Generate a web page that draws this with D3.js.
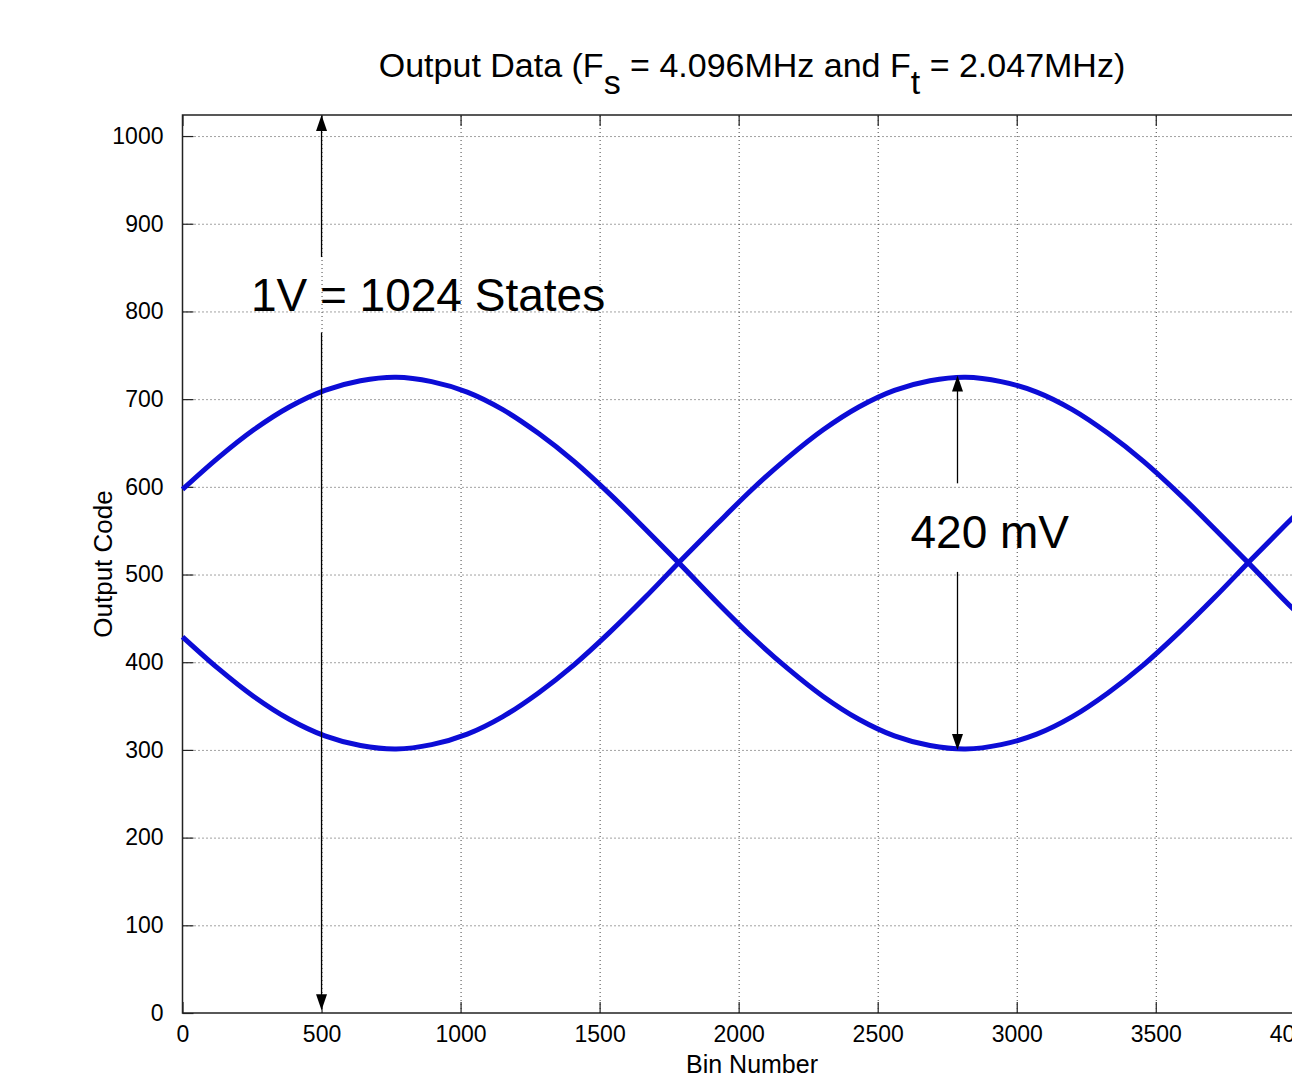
<!DOCTYPE html>
<html>
<head>
<meta charset="utf-8">
<script src="https://cdn.jsdelivr.net/npm/d3@7"></script>
<style>
    body { margin: 0; background: #fff; }
    svg { display: block; font-family: 'Liberation Sans', Arial, Helvetica, sans-serif; }
    .grid line { stroke: #444; stroke-dasharray: 1, 3; }
    .grid path { display: none; }
    .axis path { display: none; }
    .axis line { stroke: #222; stroke-width: 1.2; }
    .axis text { font-size: 23px; fill: #000; }
</style>
</head>
<body>
<svg id="grafico" width="1292" height="1078"></svg>
<script>
/* dados */
const bins = [0, 128, 256, 384, 512, 640, 768, 896, 1024, 1152, 1280, 1408, 1536, 1664, 1792, 1920,
    2048, 2176, 2304, 2432, 2560, 2688, 2816, 2944, 3072, 3200, 3328, 3456, 3584, 3712, 3840, 3968, 4096]
const codeA = [597, 633, 665, 691, 710, 721, 725, 720, 708, 688, 661, 629, 592, 552, 511, 469,
    429, 393, 361, 335, 316, 305, 301, 306, 318, 338, 365, 397, 434, 474, 516, 557, 597]
const codeB = [429, 393, 361, 335, 316, 305, 301, 306, 318, 338, 365, 397, 434, 474, 516, 557,
    597, 633, 665, 691, 710, 721, 725, 720, 708, 688, 661, 629, 592, 552, 511, 469, 429]

const xTicks = [0, 500, 1000, 1500, 2000, 2500, 3000, 3500, 4000]
const yTicks = [0, 100, 200, 300, 400, 500, 600, 700, 800, 900, 1000]

const titulo = [
    { t: 'Output Data (F', sub: false },
    { t: 's', sub: true },
    { t: ' = 4.096MHz and F', sub: false },
    { t: 't', sub: true },
    { t: ' = 2.047MHz)', sub: false }
]

/* anotacoes: bin da seta, pontas, corte para o texto e posicao do texto */
const seta1 = { bin: 500, top: 1024, bottom: 3, gapTop: 862, gapBottom: 776, label: '1V = 1024 States', lx: 883, ly: 801 }
const seta2 = { bin: 2787, top: 727, bottom: 300, gapTop: 604, gapBottom: 503, label: '420 mV', lx: 2903, ly: 530 }

function grafico(div) {
    const svg = d3.select(div);

    const margin = { top: 115, left: 182.5 };
    const width = 1139;
    const height = 898;

    const chart = svg.append('g')
        .attr('transform', `translate(${margin.left}, ${margin.top})`)

    const xScale = d3.scaleLinear()
        .range([0, width])
        .domain([0, 4096])

    const yScale = d3.scaleLinear()
        .range([height, 0])
        .domain([0, 1024])

    /*grade*/
    chart.append('g')
        .attr('class', 'grid')
        .call(d3.axisLeft(yScale)
            .tickValues(yTicks.slice(1))
            .tickSize(-width, 0, 0)
            .tickFormat('')
        )
    chart.append('g')
        .attr('class', 'grid')
        .attr('transform', `translate(0, ${height})`)
        .call(d3.axisBottom(xScale)
            .tickValues(xTicks.slice(1))
            .tickSize(-height, 0, 0)
            .tickFormat('')
        )

    /*eixos com ticks para dentro*/
    chart.append('g')
        .attr('class', 'axis')
        .attr('transform', `translate(0, ${height})`)
        .call(d3.axisBottom(xScale).tickValues(xTicks).tickFormat(d3.format('d')).tickSize(-11).tickPadding(23))
        .selectAll('text').attr('dy', '0.71em').attr('transform', 'translate(0,-10)')

    chart.append('g')
        .attr('class', 'axis')
        .call(d3.axisTop(xScale).tickValues(xTicks).tickSize(-11).tickFormat(''))

    chart.append('g')
        .attr('class', 'axis')
        .call(d3.axisLeft(yScale).tickValues(yTicks).tickFormat(d3.format('d')).tickSize(-11).tickPadding(19))

    /*caixa*/
    chart.append('rect')
        .attr('x', 0)
        .attr('y', 0)
        .attr('width', width)
        .attr('height', height)
        .attr('fill', 'none')
        .attr('stroke', '#222')
        .attr('stroke-width', 1.5)

    /*curvas*/
    const linha = d3.line()
        .x((d, i) => xScale(bins[i]))
        .y((d) => yScale(d))
        .curve(d3.curveCatmullRom)

    chart.selectAll('.serie')
        .data([codeA, codeB])
        .enter()
        .append('path')
        .attr('class', 'serie')
        .attr('d', linha)
        .attr('fill', 'none')
        .attr('stroke', '#0c0cd6')
        .attr('stroke-width', 5)
        .attr('stroke-linejoin', 'round')

    /*setas*/
    const setas = [seta1, seta2]
    setas.forEach(function (s) {
        const x = xScale(s.bin)
        const yTop = yScale(s.top)
        const yBot = yScale(s.bottom)
        chart.append('line')
            .attr('x1', x).attr('x2', x)
            .attr('y1', yTop + 12).attr('y2', yScale(s.gapTop))
            .attr('stroke', '#000').attr('stroke-width', 1.3)
        chart.append('line')
            .attr('x1', x).attr('x2', x)
            .attr('y1', yScale(s.gapBottom)).attr('y2', yBot - 12)
            .attr('stroke', '#000').attr('stroke-width', 1.3)
        chart.append('path')
            .attr('d', `M${x},${yTop} L${x - 5.5},${yTop + 16} L${x + 5.5},${yTop + 16} Z`)
            .attr('fill', '#000')
        chart.append('path')
            .attr('d', `M${x},${yBot} L${x - 5.5},${yBot - 16} L${x + 5.5},${yBot - 16} Z`)
            .attr('fill', '#000')
        chart.append('text')
            .attr('x', xScale(s.lx))
            .attr('y', yScale(s.ly))
            .attr('text-anchor', 'middle')
            .attr('font-size', '46px')
            .text(s.label)
    })

    /*titulo*/
    const tit = svg.append('text')
        .attr('x', margin.left + width / 2)
        .attr('y', 77)
        .attr('text-anchor', 'middle')
        .attr('font-size', '34px')
    titulo.forEach(function (p, i) {
        const prev = i > 0 && titulo[i - 1].sub
        tit.append('tspan')
            .attr('dy', p.sub ? 17 : (prev ? -17 : 0))
            .text(p.t)
    })

    /*rotulos dos eixos*/
    svg.append('text')
        .attr('x', margin.left + width / 2)
        .attr('y', 1073)
        .attr('text-anchor', 'middle')
        .attr('font-size', '25px')
        .text('Bin Number')

    svg.append('text')
        .attr('transform', `translate(112, ${margin.top + height / 2}) rotate(-90)`)
        .attr('text-anchor', 'middle')
        .attr('font-size', '26px')
        .text('Output Code')
}

grafico('#grafico')
</script>
</body>
</html>
